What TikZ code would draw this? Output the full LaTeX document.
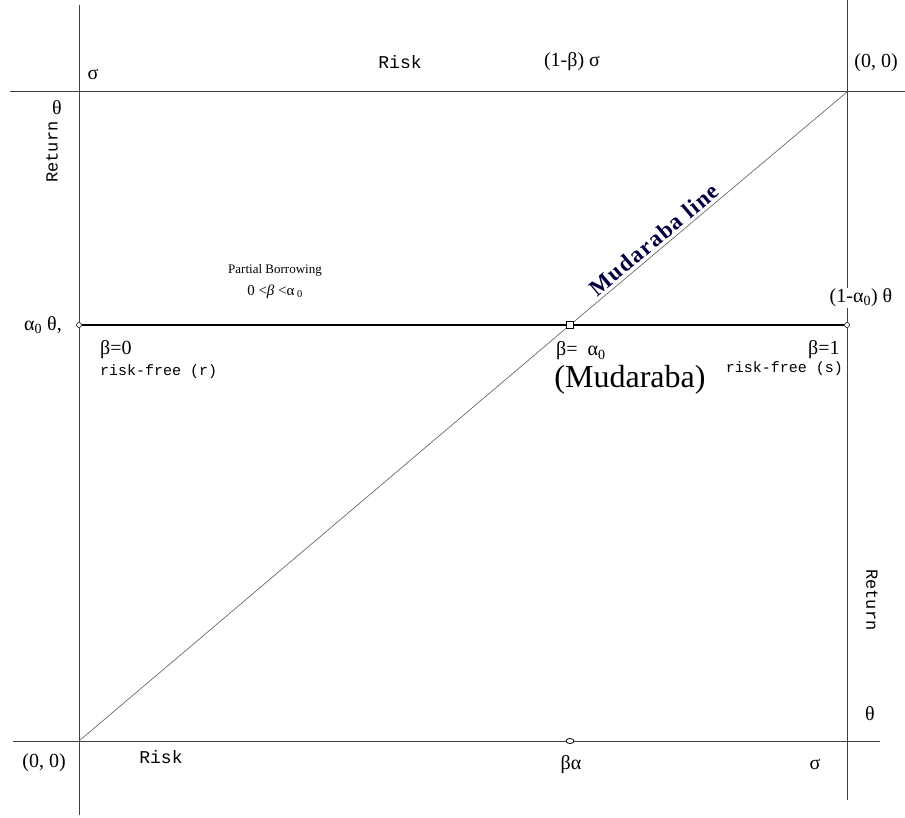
\documentclass[tikz,border=0pt]{standalone}
\usepackage{fontspec}
\setmainfont{Liberation Serif}
\setmonofont{Liberation Mono}
\usetikzlibrary{positioning,shapes.geometric}
\tikzset{
  axis/.style={draw=black!75, line width=1pt},
  bline/.style={draw=black, line width=1.8pt},
  mline/.style={draw=black!65, line width=0.6pt},
  odot/.style={circle, draw, fill=white, inner sep=0pt, minimum size=5pt, line width=0.6pt},
  sqdot/.style={rectangle, draw, fill=white, inner sep=0pt, minimum size=7pt, line width=0.8pt},
  ovdot/.style={ellipse, draw, fill=white, inner sep=0pt, minimum width=8pt, minimum height=5pt, line width=0.8pt},
  lbl/.style={font=\fontsize{20}{22}\selectfont, inner sep=1pt},
  mono/.style={font=\ttfamily\fontsize{15}{17}\selectfont, inner sep=1pt},
  bigmono/.style={font=\ttfamily\fontsize{18}{20}\selectfont, inner sep=1pt},
}

\begin{document}
\begin{tikzpicture}[x=1pt,y=-1pt]
  \useasboundingbox (0,0) rectangle (905,818);
  % axes ends
  \coordinate (lt) at (79,5);
  \coordinate (lb) at (79,815);
  \coordinate (rt) at (847,0);
  \coordinate (rb) at (847,800);
  \coordinate (tl) at (10,92);
  \coordinate (tr) at (905,92);
  \coordinate (bl) at (13,741);
  \coordinate (br) at (880,741);
  \coordinate (O) at (79,741);
  \coordinate (Otop) at (847,92);
  % points
  \node[odot] (pr) at (79,325) {};
  \node[sqdot] (pm) at (570,325) {};
  \node[odot] (ps) at (847,325) {};
  \node[ovdot] (pb) at (570,741) {};

  \draw[axis] (lt) -- (pr) -- (lb);
  \draw[axis] (rt) -- (ps) -- (rb);
  \draw[axis] (tl) -- (tr);
  \draw[axis] (bl) -- (pb) -- (br);
  \draw[bline] (pr) -- (pm) -- (ps);
  \draw[mline] (O) -- (pm);
  \draw[mline] (pm) -- (Otop)
    node[pos=0.32, sloped, above, inner sep=3pt, text=blue!25!black,
      font=\bfseries\fontsize{23}{25}\selectfont\addfontfeatures{LetterSpace=6}] (mlab) {Mudaraba line};

  % top
  \node[lbl] (sg1) at (93,74) {σ};
  \node[bigmono] (rk1) at (400,62) {Risk};
  \node[lbl] (bs) at (572,62) {(1-β) σ};
  \node[lbl] (o2) at (876,63) {(0, 0)};
  % left
  \node[lbl] (th1) at (57,108) {θ};
  \node[mono, font=\ttfamily\fontsize{17}{19}\selectfont, rotate=90] (ret1) at (52,152) {Return};
  \node[lbl] (a0) at (43,325) {α\textsubscript{0} θ,};
  \node[font=\fontsize{13}{15}\selectfont, inner sep=1pt] (pbw) at (275,270) {Partial Borrowing};
  \node[font=\fontsize{15}{17}\selectfont, inner sep=1pt] (pbr) at (275,292) {0 <\textit{β} <α\,\textsubscript{0}};
  \node[lbl, anchor=west] (b0) at (99,350) {β=0};
  \node[mono, anchor=west] (rfr) at (99,372) {risk-free (r)};
  % middle
  \node[lbl, anchor=west] (ba) at (555,351) {β=\enspace α\textsubscript{0}};
  \node[font=\fontsize{32}{34}\selectfont, inner sep=1pt] (mud) at (630,380) {(Mudaraba)};
  % right
  \node[lbl, fill=white] (a1) at (861,298) {(1-α\textsubscript{0}) θ};
  \node[lbl, anchor=west] (b1) at (807,350) {β=1};
  \node[mono, anchor=east] (rfs) at (844,369) {risk-free (s)};
  \node[mono, font=\ttfamily\fontsize{17}{19}\selectfont, rotate=-90] (ret2) at (872,600) {Return};
  \node[lbl] (th2) at (870,714) {θ};
  % bottom
  \node[lbl] (o1) at (44,763) {(0, 0)};
  \node[bigmono] (rk2) at (161,757) {Risk};
  \node[lbl] (bal) at (571,765) {βα};
  \node[lbl] (sg2) at (815,764) {σ};
\end{tikzpicture}
\end{document}
